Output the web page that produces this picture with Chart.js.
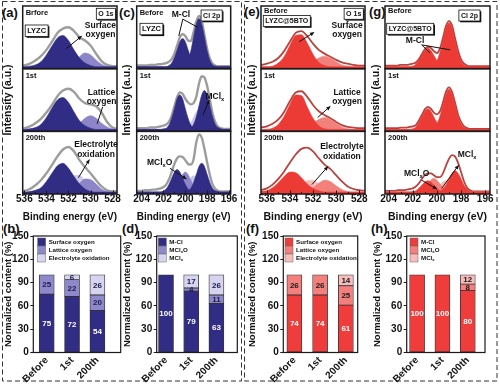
<!DOCTYPE html>
<html><head><meta charset="utf-8">
<script src="https://cdn.jsdelivr.net/npm/chart.js@4.4.1/dist/chart.umd.min.js"></script>
<style>
body{margin:0;width:500px;height:388px;background:#fff;position:relative;overflow:hidden;font-family:'Liberation Sans',Arial,sans-serif}
canvas{position:absolute}
.plab{position:absolute;font:bold 13px 'Liberation Sans',Arial,sans-serif;color:#111;line-height:14px}
svg{position:absolute;left:0;top:0}
</style></head>
<body>
<svg width="500" height="388"><g fill="none" stroke="#333" stroke-width="1" stroke-dasharray="5,3">
<rect x="2.5" y="1.5" width="239" height="379.5"/><rect x="244.5" y="1.5" width="252.5" height="379.5"/></g></svg>
<div class="plab" style="left:2px;top:6px">(a)</div>
<div class="plab" style="left:119px;top:6px">(c)</div>
<div class="plab" style="left:244px;top:5px">(e)</div>
<div class="plab" style="left:369px;top:5px">(g)</div>
<div class="plab" style="left:3px;top:222px">(b)</div>
<div class="plab" style="left:122px;top:222px">(d)</div>
<div class="plab" style="left:246px;top:222px">(f)</div>
<div class="plab" style="left:371px;top:222px">(h)</div>
<script>
// ================= DATA =================
const oEnergy = [536.5,536,535.5,535,534.5,534,533.5,533,532.5,532,531.5,531,530.5,530,529.5,529,528.5,528,527.5];
const clEnergy = [204.5,204.25,204,203.75,203.5,203.25,203,202.75,202.5,202.25,202,201.75,201.5,201.25,201,200.75,200.5,200.25,200,199.75,199.5,199.25,199,198.75,198.5,198.25,198,197.75,197.5,197.25,197,196.75,196.5,196.25,196,195.75,195.5];
const oTicks = [536,534,532,530,528];
const clTicks = [204,202,200,198,196];
const stageNames = ['Before','1st','200th'];
const stageNamesA = ['Brfore','1st','200th'];
const barTicks = [0,30,60,90,120,150];

// (a) LYZC O 1s
const aBeforeSurface = [3,3,4,6,11,22,36,49,53,45,30,17,9,5,3,3,3,3,3];
const aBeforeLattice = [3,3,3,3,3,3,3,3,3,5,10,19,25,22,14,7,4,3,3];
const aBeforeEnv     = [4,5,8,13,20,30,43,57,64,66,60,50,45,37,24,12,6,4,4];
const a1stSurface = [3,3,4,6,11,22,37,50,54,46,31,17,9,5,3,3,3,3,3];
const a1stLattice = [3,3,3,3,3,3,3,3,3,4,7,13,21,25,21,13,7,4,3];
const a1stEnv     = [4,5,8,13,20,30,42,56,65,68,63,52,45,43,40,30,15,6,4];
const a200Surface     = [3,3,4,6,10,20,33,45,49,41,28,16,8,4,3,3,3,3,3];
const a200Electrolyte = [3,3,3,3,3,3,3,5,9,19,29,30,21,11,5,3,3,3,3];
const a200Lattice     = [3,3,3,3,3,3,3,3,3,5,9,17,24,23,16,8,4,3,3];
const a200Env         = [4,5,8,14,22,33,46,60,71,75,68,54,43,33,22,12,6,4,4];

// (c) LYZC Cl 2p
const cBeforeMClA = [3,3,3,3,3,3,3,3,3,3,3,3,5,9,18,30,43,48,43,30,18,9,5,3,3,3,3,3,3,3,3,3,3,3,3,3,3];
const cBeforeMClB = [3,3,3,3,3,3,3,3,3,3,3,3,3,3,3,3,3,4,6,13,28,50,71,80,71,50,28,13,6,4,3,3,3,3,3,3,3];
const cBeforeEnv  = [5,5,5,5,5,6,6,6,7,7,8,9,11,15,24,37,50,55,52,45,44,58,75,84,76,54,31,16,8,5,4,4,4,4,4,4,4];
const c1stMClA = [3,3,3,3,3,3,3,3,3,3,4,5,10,21,36,52,58,52,36,21,10,5,4,3,3,3,3,3,3,3,3,3,3,3,3,3,3];
const c1stMClB = [3,3,3,3,3,3,3,3,3,3,3,3,3,3,3,3,3,3,3,4,6,11,23,41,58,65,58,41,23,11,6,4,3,3,3,3,3];
const c1stMClx = [3,3,3,3,3,3,3,3,3,3,3,3,3,3,3,3,3,3,4,7,13,22,31,35,31,22,13,7,4,3,3,3,3,3,3,3,3];
const c1stEnv  = [5,5,5,5,5,6,6,6,7,8,9,11,15,25,40,55,62,60,52,46,43,45,55,76,88,86,72,50,28,14,7,5,4,4,4,4,4];
const c200MClA  = [3,3,3,3,3,3,3,3,3,3,5,8,15,25,35,39,35,25,15,8,5,3,3,3,3,3,3,3,3,3,3,3,3,3,3,3,3];
const c200MClB  = [3,3,3,3,3,3,3,3,3,3,3,3,3,3,3,3,3,3,4,5,9,18,31,44,49,44,31,18,9,5,4,3,3,3,3,3,3];
const c200MClxO = [3,3,3,3,3,3,3,3,3,3,3,3,3,4,7,13,22,31,35,31,22,13,7,4,3,3,3,3,3,3,3,3,3,3,3,3,3];
const c200MClx  = [3,3,3,3,3,3,3,3,3,3,3,3,3,3,3,3,4,7,11,19,26,29,26,19,11,7,4,3,3,3,3,3,3,3,3,3,3];
const c200Env   = [5,5,5,6,6,6,7,7,8,9,11,15,23,35,48,57,60,59,54,48,47,55,82,95,90,72,50,30,15,8,5,4,4,4,4,4,4];

// (e) LYZC@5BTO O 1s
const eBeforeSurface = [3,3,4,9,19,37,53,54,41,23,10,5,3,3,3,3,3,3,3];
const eBeforeLattice = [3,3,3,3,3,3,3,4,6,11,17,20,17,11,6,4,3,3,3];
const eBeforeEnv     = [6,8,11,17,28,43,57,60,52,40,30,24,19,14,10,8,6,5,5];
const e1stSurface = [3,3,5,11,24,43,58,57,39,21,9,4,3,3,3,3,3,3,3];
const e1stLattice = [3,3,3,3,3,3,3,4,7,13,19,22,19,13,7,4,3,3,3];
const e1stEnv     = [6,8,12,19,31,48,62,64,55,42,32,26,21,15,10,7,6,5,5];
const e200Surface     = [4,5,10,18,28,35,34,26,16,9,5,3,3,3,3,3,3,3,3];
const e200Electrolyte = [3,3,3,3,3,4,7,14,21,22,16,9,5,3,3,3,3,3,3];
const e200Lattice     = [3,3,3,3,3,3,3,3,6,10,17,22,20,13,7,4,3,3,3];
const e200Env         = [6,9,15,24,36,50,63,72,74,68,57,47,40,30,20,12,8,6,5];

// (g) LYZC@5BTO Cl 2p
const gBeforeMClA = [3,3,3,3,3,3,3,3,3,3,4,7,13,21,29,33,29,21,13,7,4,3,3,3,3,3,3,3,3,3,3,3,3,3,3,3,3];
const gBeforeMClB = [3,3,3,3,3,3,3,3,3,3,3,3,3,3,3,3,4,6,12,26,45,65,73,65,45,26,12,6,4,3,3,3,3,3,3,3,3];
const gBeforeEnv  = [5,5,5,5,5,5,6,6,6,7,8,10,15,23,31,35,33,28,25,32,49,68,76,69,49,29,15,8,5,4,4,4,4,4,4,4,4];
const g1stMClA = [3,3,3,3,3,3,3,3,3,3,4,7,14,23,32,36,32,23,14,7,4,3,3,3,3,3,3,3,3,3,3,3,3,3,3,3,3];
const g1stMClB = [3,3,3,3,3,3,3,3,3,3,3,3,3,3,3,3,4,6,12,24,42,59,67,59,42,24,12,6,4,3,3,3,3,3,3,3,3];
const g1stEnv  = [5,5,5,5,5,5,6,6,6,7,8,10,17,26,35,39,36,30,27,32,46,63,70,63,46,27,15,8,5,4,4,4,4,4,4,4,4];
const g200MClA  = [3,3,3,3,3,3,3,3,3,3,4,5,9,14,19,21,19,14,9,5,4,3,3,3,3,3,3,3,3,3,3,3,3,3,3,3,3];
const g200MClB  = [3,3,3,3,3,3,3,3,3,3,3,3,3,3,3,3,3,3,3,4,8,14,24,33,37,33,24,14,8,4,3,3,3,3,3,3,3];
const g200MClxO = [3,3,3,3,3,3,3,3,3,3,3,3,4,6,10,16,22,25,22,16,10,6,4,3,3,3,3,3,3,3,3,3,3,3,3,3,3];
const g200MClx  = [3,3,3,3,3,3,3,3,3,3,3,3,3,3,3,3,4,5,9,14,19,21,19,14,9,5,4,3,3,3,3,3,3,3,3,3,3];
const g200Env   = [5,5,5,5,5,6,6,6,7,8,9,12,17,24,30,33,33,30,27,27,33,45,56,62,60,50,35,20,10,6,4,4,4,4,4,4,4];

// Bar panels (normalized content, %)
const bSurface = [75,72,54], bLattice = [25,22,20], bElectrolyte = [0,6,26];
const dMCl = [100,79,63], dMClxO = [0,4,11], dMClx = [0,17,26];
const fSurface = [74,74,61], fLattice = [26,26,25], fElectrolyte = [0,0,14];
const hMCl = [100,100,80], hMClxO = [0,0,8], hMClx = [0,0,12];

// ================= STYLE =================
const FONT = "'Liberation Sans', Arial, sans-serif";
const NAVY = '#312d84', LAV = '#8c86c9', PALE = '#cecbe8';
const RED = '#ec3b35', SALMON = '#f2807b', PINK = '#f8bcb8';
const GRAYENV = '#9d9d9d', REDENV = '#b8443f';
const SUB_IDS = ['y0','y1','y2'];

function drawRich(ctx, str, x, y, size, align, color) {
  const parts = String(str).split('~');
  let w = 0;
  parts.forEach((p, i) => { ctx.font = `bold ${i % 2 ? size * 0.68 : size}px ${FONT}`; w += ctx.measureText(p).width; });
  let cx = align === 'center' ? x - w / 2 : align === 'right' ? x - w : x;
  ctx.fillStyle = color; ctx.textBaseline = 'middle'; ctx.textAlign = 'left';
  parts.forEach((p, i) => {
    const sub = i % 2 === 1;
    ctx.font = `bold ${sub ? size * 0.68 : size}px ${FONT}`;
    ctx.fillText(p, cx, sub ? y + size * 0.32 : y);
    cx += ctx.measureText(p).width;
  });
  return w;
}
function drawArrow(ctx, x0, y0, x1, y1, head) {
  ctx.beginPath(); ctx.moveTo(x0, y0); ctx.lineTo(x1, y1); ctx.stroke();
  if (head) {
    const ang = Math.atan2(y1 - y0, x1 - x0), L = 4.5, W = 0.45;
    ctx.beginPath(); ctx.moveTo(x1, y1);
    ctx.lineTo(x1 - L * Math.cos(ang - W), y1 - L * Math.sin(ang - W));
    ctx.lineTo(x1 - L * Math.cos(ang + W), y1 - L * Math.sin(ang + W));
    ctx.closePath(); ctx.fill();
  }
}
function makeCanvas(left, top, w, h) {
  const c = document.createElement('canvas');
  c.width = w; c.height = h;
  c.style.left = left + 'px'; c.style.top = top + 'px';
  c.style.width = w + 'px'; c.style.height = h + 'px';
  document.body.appendChild(c);
  return c;
}

// ================= XPS PANELS =================
const xpsPanels = [
  { id:'a', left:0, width:124, padRight:7, yW:22.7, titlePad:2.2, energy:oEnergy, ticks:oTicks, min:527.6, max:536.15, env:GRAYENV, envW:2.4,
    subs:[
      { label:stageNamesA[0], ly:7, env:aBeforeEnv, series:[[aBeforeSurface,NAVY],[aBeforeLattice,LAV]] },
      { label:stageNamesA[1], ly:7.5, env:a1stEnv, series:[[a1stSurface,NAVY],[a1stLattice,LAV]] },
      { label:stageNamesA[2], ly:6.5, env:a200Env, series:[[a200Surface,NAVY],[a200Lattice,LAV],[a200Electrolyte,PALE]] } ],
    boxes:[ {text:'O 1s', anchor:'right', dx:-1.5, dy:2.3, size:7}, {text:'LYZC', anchor:'left', dx:2.5, dy:19, size:7.5} ],
    notes:[
      {sub:0, x:529.1, y:[68,54], text:['Surface','oxygen']}, {sub:0, from:[532.2,32], to:[530.8,52], head:true},
      {sub:1, x:529.0, y:[62,48], text:['Lattice','oxygen']}, {sub:1, from:[528.9,39], to:[529.4,12]},
      {sub:2, x:529.5, y:[78,63], text:['Electrolyte','oxidation']}, {sub:2, from:[531.1,26], to:[530.1,55], head:true} ] },
  { id:'c', left:118, width:120, padRight:6.3, yW:18.7, titlePad:3.2, energy:clEnergy, ticks:clTicks, min:195.85, max:204.45, env:GRAYENV, envW:2.4,
    subs:[
      { label:stageNames[0], ly:7, env:cBeforeEnv, series:[[cBeforeMClA,NAVY],[cBeforeMClB,NAVY]] },
      { label:stageNames[1], ly:7.5, env:c1stEnv, series:[[c1stMClA,NAVY],[c1stMClB,NAVY],[c1stMClx,'#c9c6e7']] },
      { label:stageNames[2], ly:6.5, env:c200Env, series:[[c200MClA,NAVY],[c200MClB,NAVY],[c200MClxO,LAV],[c200MClx,'#c9c6e7']] } ],
    boxes:[ {text:'Cl 2p', anchor:'right', dx:-8.5, dy:4, size:7}, {text:'LYZC', anchor:'left', dx:3.3, dy:17.3, size:7.5} ],
    notes:[
      {sub:0, x:200.4, y:[86], text:['M-Cl']}, {sub:0, from:[200.23,79], to:[200.6,52]}, {sub:0, from:[200.23,79], to:[198.87,66]},
      {sub:1, x:197.3, y:[56], text:['MCl~x~']}, {sub:1, from:[198.4,26], to:[197.8,50], head:true},
      {sub:2, x:202.35, y:[50], text:['MCl~x~O']}, {sub:2, from:[201.4,41], to:[199.9,24], head:true} ] },
  { id:'e', left:242, width:128, padRight:5, yW:19, titlePad:3.7, energy:oEnergy, ticks:oTicks, min:527.5, max:536.5, env:REDENV, envW:1.8,
    subs:[
      { label:stageNames[0], ly:4.5, env:eBeforeEnv, series:[[eBeforeSurface,RED],[eBeforeLattice,SALMON]] },
      { label:stageNames[1], ly:7.5, env:e1stEnv, series:[[e1stSurface,RED],[e1stLattice,SALMON]] },
      { label:stageNames[2], ly:6.5, env:e200Env, series:[[e200Surface,RED],[e200Lattice,SALMON],[e200Electrolyte,PINK]] } ],
    boxes:[ {text:'O 1s', anchor:'right', dx:-1.7, dy:2.3, size:7}, {text:'LYZC@5BTO', anchor:'left', dx:2.3, dy:9.5, size:7} ],
    notes:[
      {sub:0, x:529.05, y:[68,54], text:['Surface','oxygen']}, {sub:0, from:[533.2,43], to:[531.9,58], head:true},
      {sub:1, x:529.05, y:[62,48], text:['Lattice','oxygen']}, {sub:1, from:[531.6,22], to:[530.5,40], head:true},
      {sub:2, x:529.5, y:[75,60], text:['Electrolyte','oxidation']}, {sub:2, from:[532.1,15], to:[530.7,44], head:true} ] },
  { id:'g', left:366, width:132, padRight:8, yW:19, titlePad:4.2, energy:clEnergy, ticks:clTicks, min:195.6, max:204.3, env:REDENV, envW:1.8,
    subs:[
      { label:stageNames[0], ly:4.5, env:gBeforeEnv, series:[[gBeforeMClA,RED],[gBeforeMClB,RED]] },
      { label:stageNames[1], ly:7.5, env:g1stEnv, series:[[g1stMClA,RED],[g1stMClB,RED]] },
      { label:stageNames[2], ly:6.5, env:g200Env, series:[[g200MClA,RED],[g200MClB,RED],[g200MClxO,SALMON],[g200MClx,PINK]] } ],
    boxes:[ {text:'Cl 2p', anchor:'right', dx:-10, dy:4, size:7}, {text:'LYZC@5BTO', anchor:'left', dx:1.7, dy:17.3, size:7} ],
    notes:[
      {sub:0, x:201.81, y:[44], text:['M-Cl']}, {sub:0, from:[201.26,38], to:[200.57,25]}, {sub:0, from:[201.26,38], to:[198.9,30]},
      {sub:2, x:201.67, y:[33], text:['MCl~x~O']}, {sub:2, from:[201.26,22], to:[200.0,8], head:true},
      {sub:2, x:197.5, y:[62], text:['MCl~x~']}, {sub:2, from:[199.6,9], to:[198.2,46], head:true} ] }
];

function xpsPlugin(p) {
  return {
    id: 'xpsDeco' + p.id,
    afterDraw(chart) {
      const ctx = chart.ctx, a = chart.chartArea, xs = chart.scales.x;
      ctx.save();
      ctx.strokeStyle = '#1a1a1a'; ctx.lineWidth = 1;
      p.ticks.forEach((v, i) => {
        const px = Math.round(xs.getPixelForValue(v)) + 0.5;
        ctx.beginPath(); ctx.moveTo(px, a.bottom); ctx.lineTo(px, a.bottom - 3.5); ctx.stroke();
        if (i < p.ticks.length - 1) {
          const mx = Math.round(xs.getPixelForValue((v + p.ticks[i + 1]) / 2)) + 0.5;
          ctx.beginPath(); ctx.moveTo(mx, a.bottom); ctx.lineTo(mx, a.bottom - 2); ctx.stroke();
        }
      });
      ctx.strokeStyle = '#111'; ctx.fillStyle = '#111'; ctx.lineWidth = 1;
      p.notes.forEach(n => {
        const ys = chart.scales[SUB_IDS[n.sub]];
        const P = (e, v) => [xs.getPixelForValue(e), ys.getPixelForValue(v)];
        if (n.text) n.text.forEach((t, j) => { const [px, py] = P(n.x, n.y[j]); drawRich(ctx, t, px, py, 8.5, 'center', '#111'); });
        if (n.from) { const [x0, y0] = P(...n.from), [x1, y1] = P(...n.to); ctx.fillStyle = '#111'; drawArrow(ctx, x0, y0, x1, y1, n.head); }
      });
      p.subs.forEach((s, k) => { const ys = chart.scales[SUB_IDS[k]]; drawRich(ctx, s.label, a.left + 3, ys.top + s.ly, 7.5, 'left', '#111'); });
      const ys0 = chart.scales.y0;
      p.boxes.forEach(b => {
        ctx.font = `bold ${b.size}px ${FONT}`;
        const w = ctx.measureText(b.text).width + 4, h = b.size + 4;
        const left = b.anchor === 'right' ? a.right + b.dx - w : a.left + b.dx;
        const top = ys0.top + b.dy;
        ctx.fillStyle = '#111'; ctx.fillRect(left + 1.3, top + 1.3, w, h);
        ctx.fillStyle = '#fff'; ctx.fillRect(left, top, w, h);
        ctx.strokeStyle = '#111'; ctx.lineWidth = 0.8; ctx.strokeRect(left, top, w, h);
        drawRich(ctx, b.text, left + w / 2, top + h / 2 + 0.3, b.size, 'center', '#111');
      });
      ctx.strokeStyle = '#1a1a1a'; ctx.lineWidth = 1.5;
      SUB_IDS.forEach(id => { const s = chart.scales[id]; ctx.strokeRect(a.left, s.top, a.right - a.left, s.bottom - s.top); });
      ctx.restore();
    }
  };
}

xpsPanels.forEach(p => {
  const cv = makeCanvas(p.left, 0, p.width, 226);
  const datasets = [];
  p.subs.forEach((s, k) => {
    s.series.forEach(([vals, col]) => datasets.push({
      data: p.energy.map((e, i) => ({x: e, y: vals[i]})), yAxisID: SUB_IDS[k],
      fill: 'origin', backgroundColor: col, borderColor: col, borderWidth: 0.6,
      pointRadius: 0, cubicInterpolationMode: 'monotone'
    }));
    datasets.push({
      data: p.energy.map((e, i) => ({x: e, y: s.env[i]})), yAxisID: SUB_IDS[k],
      fill: 'origin', backgroundColor: '#ffffff', borderColor: p.env, borderWidth: p.envW,
      pointRadius: 0, cubicInterpolationMode: 'monotone'
    });
  });
  const scales = {
    x: { type: 'linear', reverse: true, min: p.min, max: p.max,
      afterBuildTicks: s => { s.ticks = p.ticks.map(v => ({value: v})); },
      afterFit: s => { s.height = 32; },
      grid: {display: false, drawTicks: false}, border: {display: false},
      ticks: {font: {family: FONT, size: 10, weight: 'bold', lineHeight: 1}, color: '#111', padding: 0.5, maxRotation: 0, autoSkip: false},
      title: {display: true, text: 'Binding energy (eV)', color: '#111', font: {family: FONT, size: 10.5, weight: 'bold'}, padding: {top: 0, bottom: 2.2}} }
  };
  SUB_IDS.forEach((id, k) => {
    scales[id] = { type: 'linear', position: 'left', stack: 'xps' + p.id, stackWeight: 1, weight: 3 - k, min: 0, max: 100,
      grid: {display: false, drawTicks: false}, border: {display: false}, ticks: {display: false},
      afterFit: s => { s.width = p.yW; },
      title: {display: k === 1, text: 'Intensity (a.u.)', color: '#111', font: {family: FONT, size: 10.5, weight: 'bold'}, padding: {top: p.titlePad, bottom: 0}} };
  });
  new Chart(cv, {
    type: 'line',
    data: {datasets},
    options: { responsive: false, animation: false, devicePixelRatio: 1, events: [],
      layout: {padding: {top: 6, right: p.padRight, left: 0, bottom: 0}},
      plugins: {legend: {display: false}, tooltip: {enabled: false}},
      scales },
    plugins: [xpsPlugin(p)]
  });
});

// ================= BAR PANELS =================
const barPanels = [
  { id:'b', left:0, width:124, padRight:3.3, yW:33.3, titlePad:2.3, xmin:-0.53, xmax:2.92, legX:4.4, textDark:'#1c1a4a',
    series:[ {label:'Surface oxygen', values:bSurface, color:NAVY}, {label:'Lattice oxygen', values:bLattice, color:'#8f89cc'}, {label:'Electrolyte oxidation', values:bElectrolyte, color:'#d6d4ee'} ] },
  { id:'d', left:120, width:122, padRight:4.7, yW:36.7, titlePad:1.3, xmin:-0.37, xmax:2.83, legX:1.6, textDark:'#1c1a4a',
    series:[ {label:'M-Cl', values:dMCl, color:NAVY}, {label:'MCl~x~O', values:dMClxO, color:'#8f89cc'}, {label:'MCl~x~', values:dMClx, color:'#d6d4ee'} ] },
  { id:'f', left:244, width:120, padRight:6.3, yW:39.3, titlePad:2.3, xmin:-0.43, xmax:2.46, legX:1.7, textDark:'#1a1a1a',
    series:[ {label:'Surface oxygen', values:fSurface, color:'#ee3d3a'}, {label:'Lattice oxygen', values:fLattice, color:'#f3807d'}, {label:'Electrolyte oxidation', values:fElectrolyte, color:'#f8bdbb'} ] },
  { id:'h', left:368, width:124, padRight:7, yW:38.7, titlePad:3.3, xmin:-0.41, xmax:2.68, legX:3.3, textDark:'#1a1a1a',
    series:[ {label:'M-Cl', values:hMCl, color:'#ee3d3a'}, {label:'MCl~x~O', values:hMClxO, color:'#f3807d'}, {label:'MCl~x~', values:hMClx, color:'#f8bdbb'} ] }
];

function barPlugin(p) {
  return {
    id: 'barDeco' + p.id,
    afterDraw(chart) {
      const ctx = chart.ctx, a = chart.chartArea;
      ctx.save();
      chart.data.datasets.forEach((ds, k) => {
        chart.getDatasetMeta(k).data.forEach((el, i) => {
          const v = p.series[k].values[i]; if (!v) return;
          const {x, y, base} = el.getProps(['x', 'y', 'base'], true);
          drawRich(ctx, String(v), x, (y + base) / 2 + 0.5, 8, 'center', k === 0 ? '#ffffff' : p.textDark);
        });
      });
      p.series.forEach((s, k) => {
        const top = a.top + 2 + k * 8;
        ctx.fillStyle = s.color; ctx.fillRect(a.left + p.legX, top, 8, 8);
        ctx.strokeStyle = '#666'; ctx.lineWidth = 0.5; ctx.strokeRect(a.left + p.legX, top, 8, 8);
        drawRich(ctx, s.label, a.left + p.legX + 11, top + 4, 6.2, 'left', '#111');
      });
      ctx.strokeStyle = '#1a1a1a'; ctx.lineWidth = 1.2;
      ctx.strokeRect(a.left, a.top, a.right - a.left, a.bottom - a.top);
      ctx.restore();
    }
  };
}

barPanels.forEach(p => {
  const cv = makeCanvas(p.left, 222, p.width, 166);
  const datasets = p.series.map(s => ({
    label: s.label, data: s.values.map((v, i) => ({x: i, y: v})),
    backgroundColor: s.color, borderColor: '#333', borderWidth: 0.8, borderSkipped: false, barThickness: 15
  }));
  new Chart(cv, {
    type: 'bar',
    data: {datasets},
    options: { responsive: false, animation: false, devicePixelRatio: 1, events: [],
      layout: {padding: {top: 14, right: p.padRight, left: 0, bottom: 0}},
      plugins: {legend: {display: false}, tooltip: {enabled: false}},
      scales: {
        x: { type: 'linear', stacked: true, min: p.xmin, max: p.xmax, offset: false,
          afterBuildTicks: s => { s.ticks = stageNames.map((_, i) => ({value: i})); },
          afterFit: s => { s.height = 35.5; },
          grid: {display: false, drawTicks: false}, border: {display: false},
          ticks: {callback: v => stageNames[v], minRotation: 45, maxRotation: 45, autoSkip: false, padding: 2,
            font: {family: FONT, size: 10, weight: 'bold'}, color: '#111'} },
        y: { stacked: true, min: 0, max: 150,
          afterBuildTicks: s => { s.ticks = barTicks.map(v => ({value: v})); },
          afterFit: s => { s.width = p.yW; },
          grid: {drawOnChartArea: false, drawTicks: true, tickLength: 3, color: '#1a1a1a'}, border: {display: false},
          ticks: {font: {family: FONT, size: 10, weight: 'bold'}, color: '#111', padding: 1.5},
          title: {display: true, text: 'Normalized content (%)', color: '#111', font: {family: FONT, size: 9.5, weight: 'bold'}, padding: {top: p.titlePad, bottom: 0}} }
      } },
    plugins: [barPlugin(p)]
  });
});
</script>
</body></html>
